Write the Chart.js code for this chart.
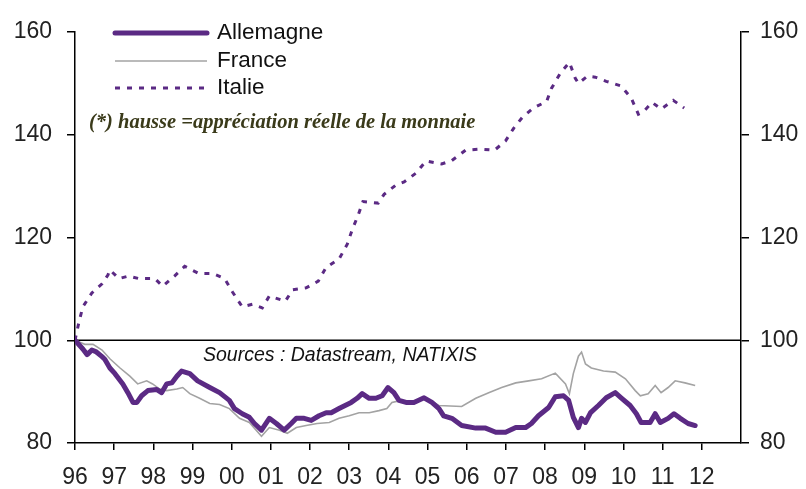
<!DOCTYPE html>
<html>
<head>
<meta charset="utf-8">
<script src="https://cdn.jsdelivr.net/npm/chart.js@4"></script>
<style>
  body { margin: 0; background: #fff; }
  #wrap { width: 806px; height: 489px; }
</style>
</head>
<body>
<div id="wrap"><canvas id="chart" width="806" height="489"></canvas></div>
<script>
// taux de change effectif reel, base 100 en 1996
let yearLabels = ['96','97','98','99','00','01','02','03','04','05','06','07','08','09','10','11','12'];
let yTicks = [80, 100, 120, 140, 160];

let allemagneDates = [1996.00,1996.20,1996.31,1996.43,1996.53,1996.69,1996.76,1996.89,1997.02,1997.22,1997.35,1997.48,1997.58,1997.70,1997.86,
  1998.09,1998.21,1998.34,1998.47,1998.60,1998.72,1998.93,1999.13,1999.44,1999.69,1999.94,2000.07,2000.27,2000.45,2000.58,2000.76,2000.96,
  2001.14,2001.34,2001.52,2001.65,2001.85,2002.03,2002.23,2002.41,2002.54,2002.74,2003.05,2003.20,2003.33,2003.51,2003.68,2003.84,2003.99,
  2004.14,2004.27,2004.45,2004.65,2004.91,2005.11,2005.29,2005.41,2005.62,2005.87,2006.23,2006.48,2006.74,2006.99,2007.25,2007.50,2007.65,
  2007.83,2008.09,2008.26,2008.47,2008.60,2008.72,2008.85,2008.93,2009.03,2009.16,2009.36,2009.56,2009.79,2009.94,2010.17,2010.33,2010.45,
  2010.68,2010.81,2010.94,2011.14,2011.29,2011.45,2011.65,2011.83];
let allemagneValues = [100.0,98.3,97.2,98.1,97.8,96.8,96.3,94.6,93.5,91.5,89.8,87.9,87.9,89.2,90.2,
  90.4,89.8,91.5,91.7,93.0,94.0,93.5,92.1,90.8,89.8,88.3,86.7,85.7,85.0,83.8,82.5,84.8,
  83.8,82.5,83.8,84.8,84.8,84.4,85.3,85.9,85.9,86.7,87.9,88.7,89.6,88.7,88.7,89.2,90.8,
  89.8,88.3,87.9,87.9,88.8,87.9,86.7,85.3,84.8,83.4,82.9,82.9,82.1,82.1,83.0,83.0,83.8,
  85.3,86.9,89.0,89.2,88.3,85.0,83.0,84.8,84.0,85.9,87.3,88.8,89.8,88.8,87.3,85.7,84.0,
  84.0,85.7,84.0,84.8,85.7,84.8,83.8,83.4];

let franceDates = [1996.00,1996.25,1996.46,1996.69,1996.89,1997.15,1997.40,1997.60,1997.83,1997.98,1998.16,1998.34,1998.60,1998.75,1998.93,
  1999.18,1999.44,1999.69,1999.94,2000.20,2000.45,2000.76,2000.96,2001.22,2001.42,2001.65,2001.90,2002.18,2002.49,2002.74,2003.00,2003.25,
  2003.51,2003.76,2003.96,2004.09,2004.27,2004.60,2004.96,2005.29,2005.87,2006.23,2006.56,2006.89,2007.25,2007.58,2007.91,2008.26,2008.52,
  2008.62,2008.72,2008.85,2008.93,2009.03,2009.18,2009.49,2009.79,2010.05,2010.30,2010.43,2010.63,2010.81,2010.96,2011.14,2011.32,2011.57,2011.83];
let franceValues = [100.0,99.2,99.2,98.1,96.4,94.6,93.0,91.5,92.1,91.5,90.5,90.2,90.5,90.8,89.6,
  88.7,87.7,87.5,86.7,84.8,84.0,81.3,83.0,82.5,81.9,83.0,83.4,83.8,84.0,84.8,85.3,85.9,
  85.9,86.3,86.7,87.9,88.2,87.9,88.7,87.3,87.1,88.7,89.8,90.8,91.7,92.1,92.5,93.6,91.5,
  89.6,93.5,96.9,97.7,95.4,94.6,94.0,93.8,92.5,90.2,89.2,89.6,91.2,89.8,90.8,92.1,91.7,91.2];

let italieDates = [1996.00,1996.10,1996.20,1996.43,1996.69,1996.84,1996.89,1997.12,1997.37,1997.63,1998.04,1998.24,1998.54,1998.80,1999.16,
  1999.51,1999.82,2000.02,2000.27,2000.53,2000.78,2000.96,2001.37,2001.55,2001.90,2002.21,2002.41,2002.74,2002.95,2003.07,2003.23,2003.35,
  2003.74,2003.89,2004.19,2004.40,2004.70,2004.96,2005.36,2005.62,2005.97,2006.33,2006.71,2006.99,2007.20,2007.42,2007.70,2008.04,2008.16,
  2008.39,2008.62,2008.77,2008.85,2009.08,2009.28,2009.56,2009.94,2010.20,2010.38,2010.50,2010.73,2010.96,2011.27,2011.55];
let italieValues = [100.0,103.5,106.5,109.2,111.0,112.7,113.7,112.0,112.5,112.0,112.0,110.5,112.5,114.4,113.0,
  113.0,112.0,109.4,106.5,107.0,106.3,108.6,107.6,109.8,110.2,111.5,114.2,115.8,118.7,121.4,124.4,127.0,
  126.7,128.4,130.2,130.8,132.5,134.9,134.3,135.0,137.0,137.2,137.0,138.8,141.3,143.4,145.2,146.5,149.0,
  152.0,154.1,151.0,150.0,151.4,151.2,150.4,149.5,147.1,144.0,144.4,146.3,145.0,146.7,145.2];

let purple = '#5b2a84';
let grey = '#a3a3a3';
let tickFont = { family: '"Liberation Sans", Arial, sans-serif', size: 23 };

function toPoints(dates, values){
  return dates.map((d, i) => ({ x: d, y: values[i] }));
}

let datasets = [
  { label: 'Allemagne', data: toPoints(allemagneDates, allemagneValues), borderColor: purple, borderWidth: 5,
    borderJoinStyle: 'round', borderCapStyle: 'round', order: 1 },
  { label: 'France', data: toPoints(franceDates, franceValues), borderColor: grey, borderWidth: 1.6, order: 2 },
  { label: 'Italie', data: toPoints(italieDates, italieValues), borderColor: purple, borderWidth: 3,
    borderDash: [5, 7], order: 3 }
];

// legende, notes et ligne de base 100
let overlay = {
  id: 'overlay',
  beforeDatasetsDraw(chart){
    let ctx = chart.ctx;
    let area = chart.chartArea;
    let y100 = chart.scales.y.getPixelForValue(100);
    ctx.save();
    ctx.strokeStyle = '#000';
    ctx.lineWidth = 1.5;
    ctx.beginPath();
    ctx.moveTo(area.left, y100);
    ctx.lineTo(area.right, y100);
    ctx.stroke();
    ctx.restore();
  },
  afterDraw(chart){
    let ctx = chart.ctx;
    ctx.save();
    let rows = [33, 61, 88];
    chart.data.datasets.forEach((ds, i) => {
      ctx.strokeStyle = ds.borderColor;
      ctx.lineWidth = ds.borderWidth;
      ctx.lineCap = ds.borderCapStyle || 'butt';
      ctx.setLineDash(ds.borderDash || []);
      ctx.beginPath();
      ctx.moveTo(115, rows[i]);
      ctx.lineTo(207, rows[i]);
      ctx.stroke();
      ctx.setLineDash([]);
      ctx.fillStyle = '#111';
      ctx.font = '22.5px "Liberation Sans", Arial, sans-serif';
      ctx.textBaseline = 'middle';
      ctx.fillText(ds.label, 217, rows[i]);
    });
    ctx.fillStyle = '#3a3a1a';
    ctx.font = 'italic bold 20.5px "Liberation Serif", serif';
    ctx.fillText('(*) hausse =appréciation réelle de la monnaie', 89, 123);
    ctx.fillStyle = '#111';
    ctx.font = 'italic 19.5px "Liberation Sans", Arial, sans-serif';
    ctx.fillText('Sources : Datastream, NATIXIS', 203, 356);
    ctx.restore();
  }
};

let yAxis = (pos, width, pad) => ({
  position: pos,
  min: 80,
  max: 160,
  afterBuildTicks: scale => { scale.ticks = yTicks.map(v => ({ value: v })); },
  ticks: { font: tickFont, color: '#222', padding: pad },
  grid: { drawOnChartArea: false, tickLength: 8, color: '#000', lineWidth: 1.5 },
  border: { color: '#000', width: 1.5 },
  afterFit: scale => { scale.width = width; }
});

new Chart(document.getElementById('chart'), {
  type: 'line',
  data: { datasets: datasets },
  options: {
    responsive: false,
    animation: false,
    elements: { point: { radius: 0 }, line: { tension: 0 } },
    layout: { padding: { top: 32, left: 0, right: 0, bottom: 0 } },
    plugins: { legend: { display: false }, tooltip: { enabled: false } },
    scales: {
      x: {
        type: 'linear',
        min: 1996,
        max: 2013,
        afterBuildTicks: scale => { scale.ticks = yearLabels.map((l, i) => ({ value: 1996 + i })); },
        ticks: { font: tickFont, color: '#222', padding: 14, maxRotation: 0, autoSkip: false,
          callback: (value, index) => yearLabels[index] },
        grid: { drawOnChartArea: false, tickLength: 7, color: '#000', lineWidth: 1.5 },
        border: { color: '#000', width: 1.5 },
        afterFit: scale => { scale.height = 46; }
      },
      y: yAxis('left', 75, 15),
      y2: yAxis('right', 65, 11)
    }
  },
  plugins: [overlay]
});
</script>
</body>
</html>
